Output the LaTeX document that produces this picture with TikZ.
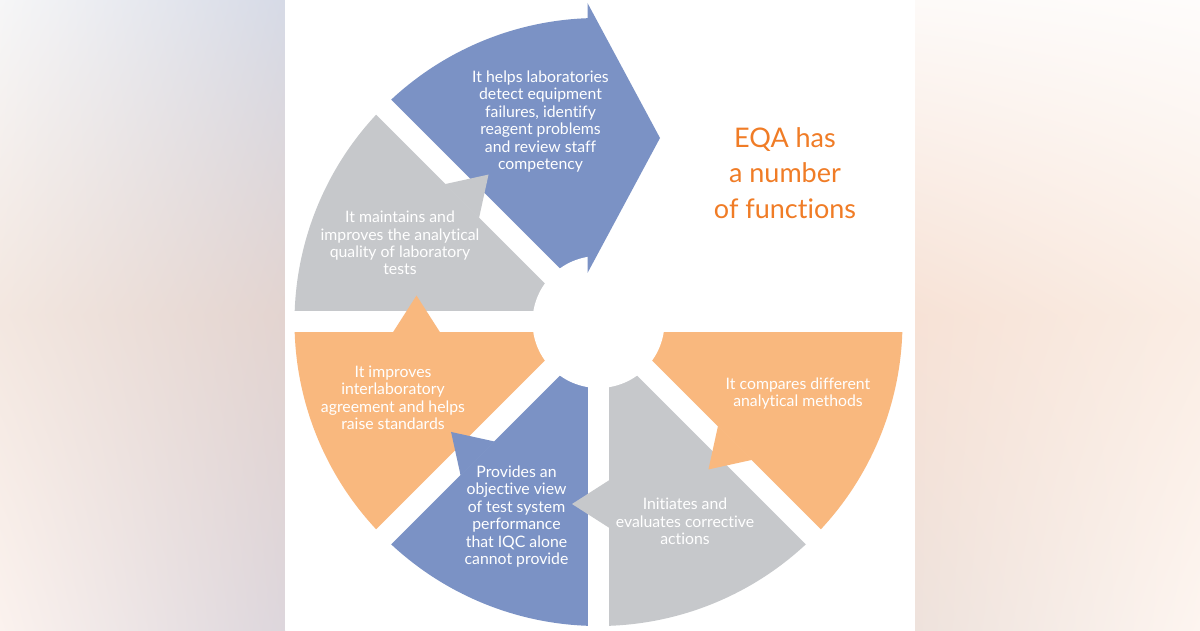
\documentclass[tikz,border=0pt]{standalone}
\usepackage{fontspec}
\setmainfont{Lato}[Ligatures=NoCommon]
\usetikzlibrary{shadings}
\definecolor{segblue}{HTML}{7B92C5}
\definecolor{seggray}{HTML}{C6C8CB}
\definecolor{segorange}{HTML}{F9B87E}
\definecolor{titleorange}{HTML}{F07C26}
\definecolor{bgA}{RGB}{246,246,247}
\definecolor{bgB}{RGB}{214,218,230}
\definecolor{bgC}{RGB}{243,231,224}
\definecolor{bgD}{RGB}{227,212,208}
\definecolor{bgE}{RGB}{251,242,238}
\definecolor{bgF}{RGB}{221,214,220}
\definecolor{bgG}{RGB}{253,250,248}
\definecolor{bgH}{RGB}{254,252,251}
\definecolor{bgI}{RGB}{247,226,214}
\definecolor{bgJ}{RGB}{250,237,228}
\definecolor{bgK}{RGB}{238,226,220}
\definecolor{bgL}{RGB}{253,245,240}
\begin{document}
\begin{tikzpicture}[x=1pt,y=1pt]
\tikzset{
  segtext/.style={text=white, align=center, font=\fontsize{15.8}{17.4}\selectfont, inner sep=0pt},
  titletext/.style={text=titleorange, align=center, font=\fontsize{27}{35.5}\selectfont, inner sep=0pt},
  gapband/.style={white, line width=21pt},
}
\useasboundingbox (0,0) rectangle (1200,630);
% side panels
\shade[upper left=bgA, upper right=bgB, lower left=bgC, lower right=bgD] (0,315) rectangle (285,630);
\shade[upper left=bgC, upper right=bgD, lower left=bgE, lower right=bgF] (0,0) rectangle (285,315);
\shade[upper left=bgG, upper right=bgH, lower left=bgI, lower right=bgJ] (915,315) rectangle (1200,630);
\shade[upper left=bgI, upper right=bgJ, lower left=bgK, lower right=bgL] (915,0) rectangle (1200,315);
\fill[white] (285,0) rectangle (915,630);

\coordinate (C) at (598.5,308);
% sectors
\fill[segorange] (C) -- ++(0:304) arc[start angle=0, end angle=-45, radius=304pt] -- cycle;
\fill[seggray]   (C) -- ++(-45:304) arc[start angle=-45, end angle=-90, radius=304pt] -- cycle;
\fill[segblue]   (C) -- ++(-90:304) arc[start angle=-90, end angle=-135, radius=304pt] -- cycle;
\fill[segorange] (C) -- ++(-135:304) arc[start angle=-135, end angle=-180, radius=304pt] -- cycle;
\fill[seggray]   (C) -- ++(180:304) arc[start angle=180, end angle=135, radius=304pt] -- cycle;
\fill[segblue]   (C) -- ++(135:304) arc[start angle=135, end angle=90, radius=304pt] -- cycle;
% gaps and hub
\foreach \a in {0,-45,-90,-135,180,135,90}
  \draw[gapband] (C) -- ++(\a:308);
\fill[white] (C) circle[radius=66pt];
% arrow tips
\foreach \a/\c in {-45/segorange, -90/seggray, -135/segblue, 180/segorange, 135/seggray}
  \fill[\c, shift={(C)}, rotate=\a] (158,11) -- (206,11) -- (182,-26.5) -- cycle;
\fill[segblue, shift={(C)}, rotate=90] (49,11) -- (319,11) -- (184,-61.5) -- cycle;
% texts
\node[segtext] (t1) at (540.5,508.5) {It helps laboratories\\detect equipment\\failures, identify\\reagent problems\\and review staff\\competency};
\node[segtext] (t2) at (400,387) {It maintains and\\improves the analytical\\quality of laboratory\\tests};
\node[segtext] (t3) at (393,232) {It improves\\interlaboratory\\agreement and helps\\raise standards};
\node[segtext] (t4) at (516.5,113.5) {Provides an\\objective view\\of test system\\performance\\that IQC alone\\cannot provide};
\node[segtext] (t5) at (685,108.5) {Initiates and\\evaluates corrective\\actions};
\node[segtext] (t6) at (798,236.5) {It compares different\\analytical methods};
\node[titletext] (title) at (785,457) {EQA has\\a number\\of functions};
\end{tikzpicture}
\end{document}
